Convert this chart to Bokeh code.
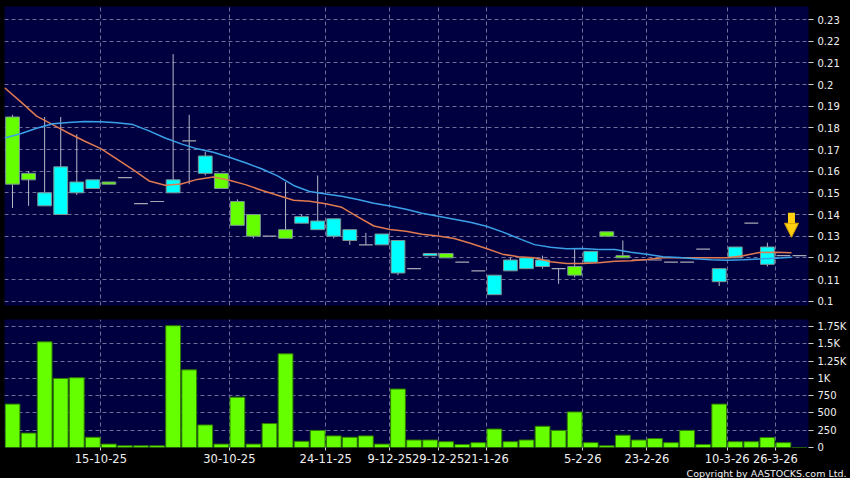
from bokeh.plotting import figure
from bokeh.layouts import column
from bokeh.models import FixedTicker, ColumnDataSource, Arrow, NormalHead, Title, Range1d
from bokeh.embed import file_html
from bokeh.resources import INLINE

# ---------------- data ----------------
opens = [0.185, 0.159, 0.144, 0.140, 0.150, 0.152, 0.155, 0.157, 0.145, 0.146,
         0.150, 0.174, 0.159, 0.159, 0.146, 0.140, 0.130, 0.133, 0.136, 0.133,
         0.130, 0.128, 0.126, 0.126, 0.113, 0.115, 0.121, 0.122, 0.118, 0.114,
         0.103, 0.114, 0.115, 0.116, 0.115, 0.116, 0.118, 0.132, 0.121, 0.119,
         0.119, 0.118, 0.118, 0.124, 0.109, 0.120, 0.136, 0.117, 0.121, 0.121]
highs = [0.186, 0.160, 0.185, 0.185, 0.177, 0.156, 0.155, 0.157, 0.145, 0.146,
         0.214, 0.186, 0.169, 0.159, 0.147, 0.140, 0.130, 0.155, 0.140, 0.158,
         0.138, 0.133, 0.1315, 0.131, 0.128, 0.115, 0.122, 0.122, 0.118, 0.114,
         0.112, 0.120, 0.120, 0.121, 0.115, 0.124, 0.123, 0.132, 0.128, 0.119,
         0.119, 0.118, 0.118, 0.124, 0.115, 0.125, 0.136, 0.127, 0.121, 0.121]
lows = [0.143, 0.144, 0.144, 0.140, 0.149, 0.152, 0.154, 0.157, 0.145, 0.146,
        0.150, 0.154, 0.158, 0.152, 0.135, 0.129, 0.130, 0.129, 0.136, 0.133,
        0.129, 0.126, 0.126, 0.126, 0.112, 0.115, 0.121, 0.120, 0.118, 0.114,
        0.103, 0.114, 0.115, 0.115, 0.108, 0.111, 0.118, 0.130, 0.120, 0.119,
        0.119, 0.118, 0.118, 0.124, 0.107, 0.120, 0.136, 0.116, 0.121, 0.121]
closes = [0.154, 0.156, 0.150, 0.162, 0.155, 0.156, 0.154, 0.157, 0.145, 0.146,
          0.156, 0.174, 0.167, 0.152, 0.135, 0.130, 0.130, 0.129, 0.139, 0.137,
          0.138, 0.133, 0.126, 0.131, 0.128, 0.115, 0.122, 0.120, 0.118, 0.114,
          0.112, 0.119, 0.120, 0.119, 0.115, 0.112, 0.123, 0.130, 0.120, 0.119,
          0.119, 0.118, 0.118, 0.124, 0.115, 0.125, 0.136, 0.125, 0.121, 0.121]
volumes = [627, 208, 1527, 998, 1008, 148, 49, 25, 25, 25,
           1760, 1122, 326, 49, 727, 49, 346, 1354, 89, 247,
           168, 148, 168, 49, 845, 108, 108, 84, 44, 70,
           267, 84, 108, 307, 247, 514, 70, 25, 178, 108,
           129, 70, 247, 44, 627, 84, 84, 144, 70, 0]
# moving averages, one value per bar boundary (first one before bar 0)
ma_fast = [0.1985, 0.1921, 0.1854, 0.1815, 0.1775, 0.1738, 0.1704, 0.1656, 0.1607, 0.1555,
           0.1535, 0.1541, 0.1562, 0.1573, 0.1558, 0.1538, 0.1512, 0.1489, 0.1466, 0.1461,
           0.1450, 0.1433, 0.1389, 0.1347, 0.1331, 0.1323, 0.1309, 0.1301, 0.1289, 0.1267,
           0.1243, 0.1217, 0.1205, 0.1200, 0.1182, 0.1174, 0.1174, 0.1177, 0.1184, 0.1186,
           0.1192, 0.1200, 0.1200, 0.1200, 0.1200, 0.1200, 0.1210, 0.1225, 0.1226, 0.1223]
ma_slow = [0.1753, 0.1773, 0.1798, 0.1819, 0.1825, 0.1829, 0.1828, 0.1823, 0.1815, 0.1786,
           0.1753, 0.1726, 0.1703, 0.1687, 0.1664, 0.1639, 0.1611, 0.1578, 0.1534, 0.1506,
           0.1495, 0.1484, 0.1469, 0.1452, 0.1439, 0.1424, 0.1406, 0.1392, 0.1378, 0.1364,
           0.1346, 0.1320, 0.1290, 0.1261, 0.1249, 0.1242, 0.1243, 0.1238, 0.1238, 0.1226,
           0.1217, 0.1205, 0.1201, 0.1196, 0.1191, 0.1189, 0.1191, 0.1195, 0.1198, 0.1203]
date_tick_index = [6, 14, 20, 24, 27, 30, 36, 40, 45, 48]
date_tick_labels = ["15-10-25", "30-10-25", "24-11-25", "9-12-25", "29-12-25",
                    "21-1-26", "5-2-26", "23-2-26", "10-3-26", "26-3-26"]
price_ticks = [0.10, 0.11, 0.12, 0.13, 0.14, 0.15, 0.16, 0.17, 0.18, 0.19, 0.20, 0.21, 0.22, 0.23]
price_tick_labels = ["0.1", "0.11", "0.12", "0.13", "0.14", "0.15", "0.16", "0.17",
                     "0.18", "0.19", "0.2", "0.21", "0.22", "0.23"]
vol_ticks = [0, 250, 500, 750, 1000, 1250, 1500, 1750]
vol_tick_labels = ["0", "250", "500", "750", "1K", "1.25K", "1.5K", "1.75K"]
marker_bar = 48.5      # bar boundary marked by the arrow
marker_top = 0.1408
marker_tip = 0.1295

# ---------------- styling ----------------
BG = "#000040"
OUTER = "#000000"
GRID = "#6e6e98"
TXT = "#f0f0f0"
UP = "#00ffff"
DOWN = "#66ff00"
FONT = "DejaVu Sans"

n = len(opens)
idx = list(range(n))
grid_x = [i - 0.5 for i in date_tick_index]

body = dict(x=[], top=[], bottom=[], color=[])
flat = dict(x0=[], x1=[], y=[])
for i in idx:
    o, c = opens[i], closes[i]
    if c > o:
        body["x"].append(i); body["top"].append(c); body["bottom"].append(o); body["color"].append(UP)
    elif c < o:
        body["x"].append(i); body["top"].append(o); body["bottom"].append(c); body["color"].append(DOWN)
    else:
        flat["x0"].append(i - 0.43); flat["x1"].append(i + 0.43); flat["y"].append(c)

x_range = Range1d(-0.5, 49.56)

p1 = figure(width=850, height=312, x_range=x_range, y_range=Range1d(0.098, 0.236),
            output_backend="svg", toolbar_location=None, y_axis_location="right",
            min_border_left=4, min_border_right=42, min_border_top=6, min_border_bottom=7,
            background_fill_color=BG, border_fill_color=OUTER, outline_line_color=None)
p1.xaxis.visible = False
p1.xgrid.ticker = FixedTicker(ticks=grid_x)
p1.ygrid.ticker = FixedTicker(ticks=price_ticks)

# wicks
p1.segment(x0=idx, y0=lows, x1=idx, y1=highs, line_color="#b8b8c8", line_width=1)
# bodies
p1.vbar(x="x", top="top", bottom="bottom", width=0.86, fill_color="color",
        line_color="#7c9494", line_width=1, source=ColumnDataSource(body))
p1.segment(x0="x0", y0="y", x1="x1", y1="y", line_color="#a8a8b4", line_width=1.2,
           source=ColumnDataSource(flat))
# moving averages (drawn over the candles)
ma_x = [k + 0.5 for k in range(-1, n - 1)]
p1.line(ma_x, ma_fast, line_color="#e07a50", line_width=1.5)
p1.line(ma_x, ma_slow, line_color="#3aa0e8", line_width=1.5)

p1.add_layout(Arrow(end=NormalHead(size=14, fill_color="#ffcf10", line_color="#d8a000"),
                    x_start=marker_bar, y_start=marker_top, x_end=marker_bar, y_end=marker_tip,
                    line_width=7, line_color="#ffcf10"))

p2 = figure(width=850, height=166, x_range=x_range, y_range=Range1d(0, 1850),
            output_backend="svg", toolbar_location=None, y_axis_location="right",
            min_border_left=4, min_border_right=42, min_border_top=7, min_border_bottom=0,
            background_fill_color=BG, border_fill_color=OUTER, outline_line_color=None)
p2.vbar(x=idx, top=volumes, bottom=0, width=0.92, fill_color=DOWN, line_color="#2f7a00", line_width=1)
p2.xaxis.ticker = FixedTicker(ticks=grid_x)
p2.xaxis.major_label_overrides = {t: lab for t, lab in zip(grid_x, date_tick_labels)}
p2.xgrid.ticker = FixedTicker(ticks=grid_x)
p2.yaxis.ticker = FixedTicker(ticks=vol_ticks)
p2.yaxis.major_label_overrides = {t: lab for t, lab in zip(vol_ticks, vol_tick_labels)}
p2.ygrid.ticker = FixedTicker(ticks=vol_ticks)

p1.yaxis.ticker = FixedTicker(ticks=price_ticks)
p1.yaxis.major_label_overrides = {t: lab for t, lab in zip(price_ticks, price_tick_labels)}

for p in (p1, p2):
    for g in (p.xgrid, p.ygrid):
        g.grid_line_color = GRID
        g.grid_line_dash = "4 3"
        g.grid_line_width = 1
    ax = p.yaxis[0]
    ax.axis_line_color = None
    ax.major_tick_in = 0
    ax.major_tick_out = 5
    ax.major_tick_line_color = "#d0d0d0"
    ax.minor_tick_line_color = None
    ax.major_label_standoff = 4
    ax.major_label_text_font = FONT
    ax.major_label_text_font_size = "10px"
    ax.major_label_text_color = TXT

xa = p2.xaxis[0]
xa.axis_line_color = None
xa.major_tick_in = 0
xa.major_tick_out = 3
xa.major_tick_line_color = "#d0d0d0"
xa.minor_tick_line_color = None
xa.major_label_standoff = 3
xa.major_label_text_font = FONT
xa.major_label_text_font_size = "11.5px"
xa.major_label_text_color = TXT

p2.add_layout(Title(text="Copyright by AASTOCKS.com Ltd.", align="right", text_font=FONT,
                    text_font_size="9.5px", text_font_style="normal", text_color=TXT,
                    standoff=0, offset=-38), "below")

layout = column(p1, p2, spacing=0)
layout.styles = {"background-color": OUTER}
open("out.html", "w").write(file_html(layout, INLINE))
